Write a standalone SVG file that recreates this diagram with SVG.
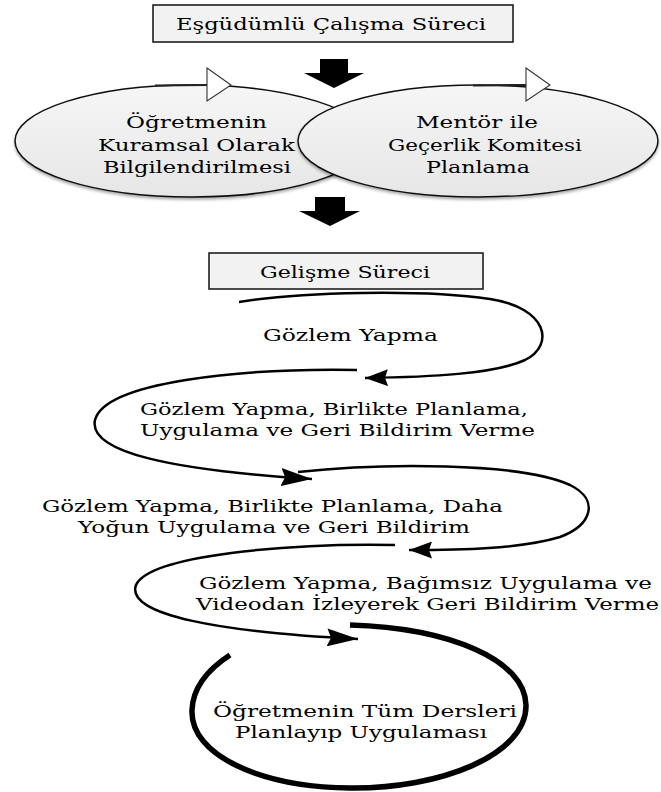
<svg xmlns="http://www.w3.org/2000/svg" width="661" height="792" viewBox="0 0 661 792">
<style>
  text { font-family: "DejaVu Serif", "Liberation Serif", serif; font-size: 17.5px; fill: #000; }
  .box { fill: #f2f2f2; stroke: #111; stroke-width: 1.5; }
  .ell { fill: url(#eg); stroke: #111; stroke-width: 1.5; }
  .blk { fill: #000; }
  .hol { fill: #fff; stroke: #333; stroke-width: 1.1; }
  .shaft { stroke: #222; stroke-width: 2.2; fill: none; }
  .cv { fill: none; stroke: #000; stroke-width: 2.5; }
  .cvb { fill: none; stroke: #000; stroke-width: 5.5; }
</style>
<defs>
  <linearGradient id="eg" x1="0" y1="0" x2="0" y2="1">
    <stop offset="0" stop-color="#f6f6f6"/>
    <stop offset="1" stop-color="#e6e6e6"/>
  </linearGradient>
  <filter id="sh" x="-10%" y="-10%" width="120%" height="130%">
    <feDropShadow dx="0" dy="2" stdDeviation="1.5" flood-color="#000" flood-opacity="0.35"/>
  </filter>
  <marker id="ahS" markerUnits="userSpaceOnUse" markerWidth="23" markerHeight="17" viewBox="0 0 23 17" refX="23" refY="8.5" orient="auto">
    <path d="M0,0 L23,8.5 L0,17 L3,8.5 z" fill="#000"/>
  </marker>
  <marker id="ahL" markerUnits="userSpaceOnUse" markerWidth="31" markerHeight="18" viewBox="0 0 31 18" refX="31" refY="9" orient="auto">
    <path d="M0,0 L31,9 L0,18 L4,9 z" fill="#000"/>
  </marker>
</defs>
<rect width="661" height="792" fill="#fff"/>

<g id="title-box">
  <rect class="box" x="153" y="5" width="360" height="37"/>
  <text x="176" y="30" textLength="310" lengthAdjust="spacingAndGlyphs">Eşgüdümlü Çalışma Süreci</text>
</g>

<g id="node-left-ellipse">
  <ellipse class="ell" filter="url(#sh)" cx="192" cy="141" rx="177" ry="56"/>
</g>
<g id="node-right-ellipse">
  <ellipse class="ell" filter="url(#sh)" cx="478" cy="141" rx="180" ry="56"/>
</g>
<g id="left-ellipse-text">
  <text x="126" y="128" textLength="141" lengthAdjust="spacingAndGlyphs">Öğretmenin</text>
  <text x="98" y="151" textLength="197" lengthAdjust="spacingAndGlyphs">Kuramsal Olarak</text>
  <text x="103" y="173" textLength="188" lengthAdjust="spacingAndGlyphs">Bilgilendirilmesi</text>
</g>
<g id="right-ellipse-text">
  <text x="416" y="128" textLength="122" lengthAdjust="spacingAndGlyphs">Mentör ile</text>
  <text x="388" y="151" textLength="194" lengthAdjust="spacingAndGlyphs">Geçerlik Komitesi</text>
  <text x="426" y="173" textLength="104" lengthAdjust="spacingAndGlyphs">Planlama</text>
</g>

<g id="development-box">
  <rect class="box" x="209" y="253" width="274" height="36"/>
  <text x="260" y="278" textLength="170" lengthAdjust="spacingAndGlyphs">Gelişme Süreci</text>
</g>

<g id="step1">
  <text x="263" y="341" textLength="175" lengthAdjust="spacingAndGlyphs">Gözlem Yapma</text>
</g>
<g id="step2">
  <text x="140" y="415" textLength="388" lengthAdjust="spacingAndGlyphs">Gözlem Yapma, Birlikte Planlama,</text>
  <text x="140" y="436" textLength="395" lengthAdjust="spacingAndGlyphs">Uygulama ve Geri Bildirim Verme</text>
</g>
<g id="step3">
  <text x="42" y="512" textLength="461" lengthAdjust="spacingAndGlyphs">Gözlem Yapma, Birlikte Planlama, Daha</text>
  <text x="78" y="533" textLength="392" lengthAdjust="spacingAndGlyphs">Yoğun Uygulama ve Geri Bildirim</text>
</g>
<g id="step4">
  <text x="199" y="589" textLength="453" lengthAdjust="spacingAndGlyphs">Gözlem Yapma, Bağımsız Uygulama ve</text>
  <text x="196" y="610" textLength="463" lengthAdjust="spacingAndGlyphs">Videodan İzleyerek Geri Bildirim Verme</text>
</g>
<g id="step5">
  <text x="213" y="717" textLength="304" lengthAdjust="spacingAndGlyphs">Öğretmenin Tüm Dersleri</text>
  <text x="235" y="738" textLength="252" lengthAdjust="spacingAndGlyphs">Planlayıp Uygulaması</text>
</g>

<g id="connectors">
  <!-- block arrows -->
  <path class="blk" d="M320,59 H348 V73 H364 L334,88 L304,73 H320 Z"/>
  <path class="blk" d="M315,197 H345 V211 H360 L330,226 L299,211 H315 Z"/>
  <!-- hollow arrows on ellipses -->
  <line class="shaft" x1="155" y1="85.5" x2="208" y2="85"/>
  <polygon class="hol" points="207,68 231,85 207,101"/>
  <line class="shaft" x1="473" y1="85.5" x2="527" y2="85"/>
  <polygon class="hol" points="526,68 550,85 526,101"/>
  <!-- spiral curves -->
  <path class="cv" marker-end="url(#ahS)" d="M239,302 C300,292 420,289 490,299 C548,308 555,345 525,360 C495,374 430,377 365,378"/>
  <path class="cv" marker-end="url(#ahL)" d="M357,370 C240,368 105,382 95,420 C88,452 170,470 312,479"/>
  <path class="cv" marker-end="url(#ahS)" d="M298,472 C380,463 520,462 570,485 C600,500 592,525 560,537 C520,549 460,550 409,550"/>
  <path class="cv" marker-end="url(#ahL)" d="M395,545 C290,543 150,555 136,585 C125,615 220,632 358,639"/>
  <path class="cvb" d="M350,625 C450,628 525,660 526,705 C527,755 440,789 350,788 C260,787 190,755 192,710 C193,685 210,668 230,655"/>
</g>
</svg>
